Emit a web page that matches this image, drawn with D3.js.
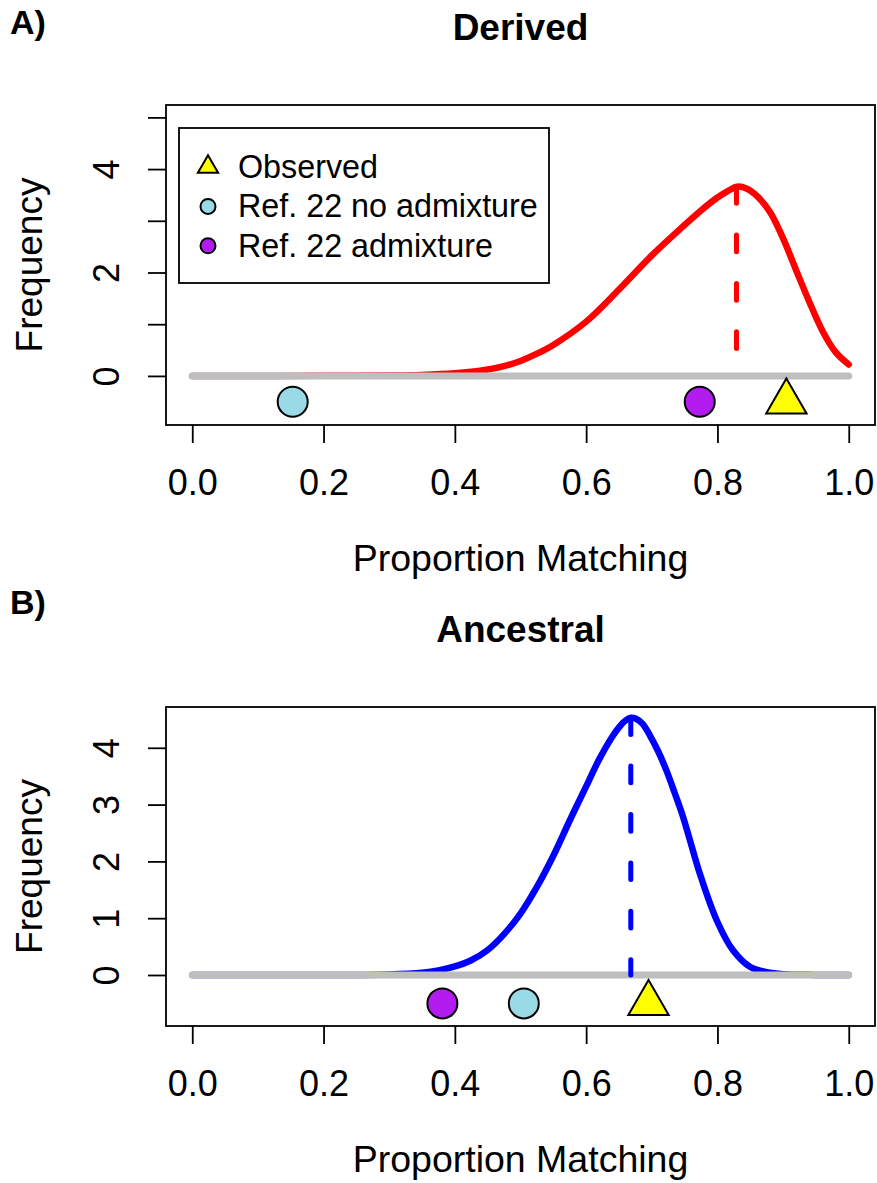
<!DOCTYPE html>
<html>
<head>
<meta charset="utf-8">
<script src="https://cdn.jsdelivr.net/npm/d3@7/dist/d3.min.js"></script>
<style>
  body { margin: 0; background: #fff; }
  svg text { font-family: "Liberation Sans", Arial, Helvetica, sans-serif; fill: #000; }
</style>
</head>
<body>
<svg id="chart" width="877" height="1183"></svg>
<script>
// x axis ticks, shared by both panels
const proportionTicks = [0, 0.2, 0.4, 0.6, 0.8, 1.0];

// A) Derived: density curve
const derivedX = [0, 0.1, 0.2, 0.3, 0.35, 0.4, 0.425, 0.45, 0.475, 0.5, 0.525, 0.55, 0.6, 0.65, 0.7, 0.75, 0.775, 0.8, 0.815, 0.83, 0.845, 0.86, 0.88, 0.9, 0.92, 0.94, 0.96, 0.98, 1.0];
const derivedDensity = [0, 0, 0.001, 0.008, 0.02, 0.05, 0.08, 0.125, 0.19, 0.29, 0.43, 0.6, 1.05, 1.67, 2.33, 2.92, 3.2, 3.45, 3.57, 3.66, 3.62, 3.48, 3.17, 2.66, 2.04, 1.43, 0.87, 0.46, 0.22];
const derivedMode = 0.829;
const derivedYTicks = [0, 1, 2, 3, 4, 5];
const derivedYLabels = [0, 2, 4];
// Observed, Ref. 22 no admixture, Ref. 22 admixture
const derivedMarkers = [0.905, 0.153, 0.773];

// B) Ancestral
const ancestralX = [0, 0.2, 0.3, 0.35, 0.375, 0.4, 0.425, 0.45, 0.475, 0.5, 0.525, 0.55, 0.575, 0.6, 0.62, 0.64, 0.65, 0.66, 0.668, 0.676, 0.686, 0.697, 0.71, 0.723, 0.735, 0.748, 0.773, 0.799, 0.824, 0.85, 0.875, 0.9, 0.95, 1.0];
const ancestralDensity = [0, 0, 0.01, 0.04, 0.08, 0.15, 0.26, 0.44, 0.72, 1.08, 1.55, 2.1, 2.72, 3.32, 3.8, 4.2, 4.36, 4.48, 4.53, 4.51, 4.42, 4.22, 3.93, 3.58, 3.2, 2.77, 1.79, 0.96, 0.43, 0.14, 0.05, 0.015, 0.002, 0];
const ancestralMode = 0.668;
const ancestralYTicks = [0, 1, 2, 3, 4];
const ancestralYLabels = [0, 1, 2, 3, 4];
const ancestralMarkers = [0.695, 0.505, 0.381];

const markerLevel = -0.5;
const legendNames = ["Observed", "Ref. 22 no admixture", "Ref. 22 admixture"];
const markerShapes = ["triangle", "circle", "circle"];
const markerFills = ["#FFFF00", "#9AD9E6", "#B31CEE"];

const svg = d3.select("#chart");
const FONT = 36;

// R-like axis limits: data range widened by 4% each side
function rLim(lo, hi) {
    const pad = (hi - lo) * 0.04;
    return [lo - pad, hi + pad];
}

// pch 21 / pch 24 style symbol
function symbol(g, shape, cx, cy, s, fill) {
    if (shape === "circle") {
        g.append("circle")
            .attr("cx", cx).attr("cy", cy).attr("r", s)
            .attr("fill", fill).attr("stroke", "#000").attr("stroke-width", 2);
    } else {
        const r = 1.5551 * s, xc = 1.3468 * s, yc = 0.7776 * s;
        g.append("path")
            .attr("d", `M${cx},${cy - r}L${cx + xc},${cy + yc}L${cx - xc},${cy + yc}Z`)
            .attr("fill", fill).attr("stroke", "#000").attr("stroke-width", 2)
            .attr("stroke-linejoin", "miter");
    }
}

function drawPanel(p) {
    const left = 166, right = 875;
    const top = p.top, bottom = p.top + p.height;

    const x = d3.scaleLinear().domain(rLim(0, 1)).range([left, right]);
    const y = d3.scaleLinear().domain(rLim(p.ylim[0], p.ylim[1])).range([bottom, top]);

    const g = svg.append("g");

    // panel tag and title
    svg.append("text").attr("x", 10).attr("y", p.tagY)
        .attr("font-size", 34).attr("font-weight", "bold").text(p.tag);
    svg.append("text").attr("x", (left + right) / 2).attr("y", p.titleY)
        .attr("text-anchor", "middle").attr("font-size", 37).attr("font-weight", "bold")
        .text(p.title);

    // density curve
    const pts = p.xs.map((v, i) => [v, p.ys[i]]);
    g.append("path")
        .datum(pts)
        .attr("fill", "none").attr("stroke", p.color).attr("stroke-width", 6.5)
        .attr("stroke-linecap", "round").attr("stroke-linejoin", "round")
        .attr("d", d3.line().x(d => x(d[0])).y(d => y(d[1])).curve(d3.curveCatmullRom.alpha(0.5)));

    // baseline at zero
    g.append("path")
        .datum([[0, 0], [1, 0]])
        .attr("stroke", "#BEBEBE").attr("stroke-width", 7).attr("stroke-linecap", "round")
        .attr("d", d3.line().x(d => x(d[0])).y(d => y(d[1])));

    // mode marker, dashed, drawn from the peak down
    const peak = d3.max(p.ys);
    g.append("path")
        .datum([[p.mode, peak], [p.mode, 0]])
        .attr("stroke", p.color).attr("stroke-width", 5).attr("stroke-linecap", "round")
        .attr("stroke-dasharray", "16.7,31.7")
        .attr("d", d3.line().x(d => x(d[0])).y(d => y(d[1])));

    // observed + reference points
    p.markers.forEach((v, i) => {
        symbol(g, markerShapes[i], x(v), y(markerLevel), 15, markerFills[i]);
    });

    // x axis
    const xAxis = g.append("g")
        .attr("transform", `translate(0,${bottom})`)
        .call(d3.axisBottom(x).tickValues(proportionTicks).tickFormat(d3.format(".1f"))
            .tickSize(18).tickSizeOuter(0));
    xAxis.select(".domain").remove();
    xAxis.selectAll("line").attr("stroke-width", 1.8);
    xAxis.selectAll("text")
        .attr("y", 70).attr("dy", null)
        .attr("font-size", FONT).attr("font-family", null);

    // y axis, labels turned parallel to the axis
    const yAxis = g.append("g")
        .attr("transform", `translate(${left},0)`)
        .call(d3.axisLeft(y).tickValues(p.yTicks)
            .tickFormat(d => p.yLabels.includes(d) ? d : "")
            .tickSize(18).tickSizeOuter(0));
    yAxis.select(".domain").remove();
    yAxis.selectAll("line").attr("stroke-width", 1.8);
    yAxis.selectAll("text")
        .attr("x", null).attr("dy", null)
        .attr("text-anchor", "middle")
        .attr("transform", "translate(-47,0) rotate(-90)")
        .attr("font-size", FONT).attr("font-family", null);

    // axis titles
    svg.append("text")
        .attr("x", (left + right) / 2).attr("y", bottom + 146)
        .attr("text-anchor", "middle").attr("font-size", 37.5)
        .text("Proportion Matching");
    svg.append("text")
        .attr("transform", `translate(42,${(top + bottom) / 2}) rotate(-90)`)
        .attr("text-anchor", "middle").attr("font-size", 37)
        .text("Frequency");

    // legend (only in panel A)
    if (p.legend) {
        const lg = g.append("g").attr("transform", `translate(${left + 13},${top + 23})`);
        lg.append("rect").attr("width", 370).attr("height", 155)
            .attr("fill", "#fff").attr("stroke", "#000").attr("stroke-width", 1.8);
        legendNames.forEach((name, i) => {
            const cy = 39 + i * 39.4;
            symbol(lg, markerShapes[i], 29, cy, 7.5, markerFills[i]);
            lg.append("text").attr("x", 59).attr("y", cy + 11)
                .attr("font-size", 32.3).text(name);
        });
    }

    // box
    g.append("rect")
        .attr("x", left).attr("y", top).attr("width", right - left).attr("height", bottom - top)
        .attr("fill", "none").attr("stroke", "#000").attr("stroke-width", 1.8);
}

drawPanel({
    tag: "A)", tagY: 34, title: "Derived", titleY: 40,
    top: 105, height: 320, ylim: [-0.72, 5.01],
    xs: derivedX, ys: derivedDensity, mode: derivedMode, color: "#FF0000",
    yTicks: derivedYTicks, yLabels: derivedYLabels,
    markers: derivedMarkers, legend: true
});

drawPanel({
    tag: "B)", tagY: 614, title: "Ancestral", titleY: 642,
    top: 707, height: 319, ylim: [-0.69, 4.51],
    xs: ancestralX, ys: ancestralDensity, mode: ancestralMode, color: "#0000FF",
    yTicks: ancestralYTicks, yLabels: ancestralYLabels,
    markers: ancestralMarkers, legend: false
});
</script>
</body>
</html>
